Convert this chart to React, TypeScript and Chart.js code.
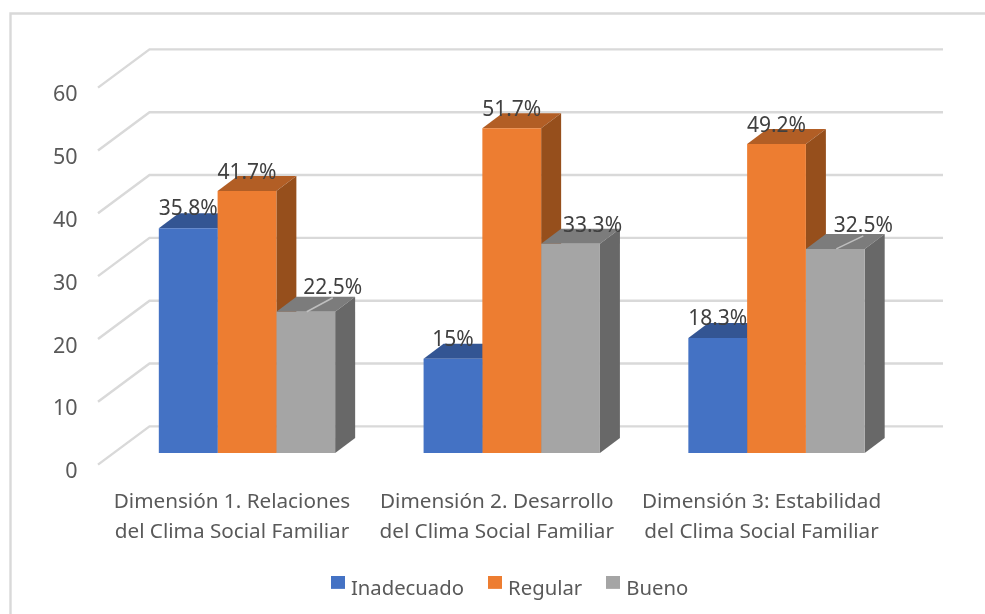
import React, { useEffect, useRef } from "react";
import { Chart, registerables } from "chart.js";

Chart.register(...registerables);

const categories = [
  ["Dimensión 1. Relaciones", "del Clima Social Familiar"],
  ["Dimensión 2. Desarrollo", "del Clima Social Familiar"],
  ["Dimensión 3: Estabilidad", "del Clima Social Familiar"],
];
const inadecuado = [35.8, 15, 18.3];
const regular = [41.7, 51.7, 49.2];
const bueno = [22.5, 33.3, 32.5];
const inadecuadoLabels = ["35.8%", "15%", "18.3%"];
const regularLabels = ["41.7%", "51.7%", "49.2%"];
const buenoLabels = ["22.5%", "33.3%", "32.5%"];

const FONT = "'Noto Sans', sans-serif";
const GRID = "#d9d9d9";
const faces = [
  { front: "#4472C4", top: "#335593", side: "#294674" },
  { front: "#ED7D31", top: "#B25E25", side: "#964F1C" },
  { front: "#A5A5A5", top: "#7C7C7C", side: "#686868" },
];
const DEPTH_X = 20;
const DEPTH_Y = 15;

// label placement relative to the bar: [dx, lift above the bar top]
const labelPlacement = [
  [[0, 13], [0, 13], [0, 13]],
  [[0, 12], [0, 12], [0, 12]],
  [[27, 18], [22, 12], [28, 17]],
];
const leaders = [
  [false, false, false],
  [false, false, false],
  [true, false, true],
];
const labelText = [inadecuadoLabels, regularLabels, buenoLabels];

// legend swatch sits higher than the text's centre, as in the reference
function legendSwatch(color: string) {
  const c = document.createElement("canvas");
  c.width = 14;
  c.height = 26;
  const g = c.getContext("2d") as CanvasRenderingContext2D;
  g.fillStyle = color;
  g.fillRect(0, 0, 14, 13);
  return c;
}

const wallPlugin = {
  id: "wall",
  beforeDraw(chart: any) {
    const { ctx } = chart;
    ctx.save();
    ctx.fillStyle = "#ffffff";
    ctx.fillRect(0, 0, chart.width, chart.height);
    ctx.restore();
  },
  beforeDatasetsDraw(chart: any) {
    const { ctx, scales } = chart;
    const y = scales.y;
    ctx.save();
    ctx.strokeStyle = GRID;
    ctx.lineWidth = 2.4;
    // chart frame (only left and top are inside the picture)
    ctx.beginPath();
    ctx.moveTo(10.5, chart.height);
    ctx.lineTo(10.5, 13.5);
    ctx.lineTo(chart.width, 13.5);
    ctx.stroke();
    // floor + back wall gridlines
    y.ticks.forEach((t: any) => {
      const p = y.getPixelForValue(t.value);
      ctx.beginPath();
      ctx.moveTo(98, p + 11.5);
      ctx.lineTo(149.5, p - 26.7);
      ctx.lineTo(943, p - 26.7);
      ctx.stroke();
    });
    // depth faces
    chart.data.datasets.forEach((_: any, di: number) => {
      const meta = chart.getDatasetMeta(di);
      meta.data.forEach((bar: any) => {
        const half = bar.width / 2;
        const l = bar.x - half;
        const r = bar.x + half;
        const t = bar.y;
        const b = bar.base;
        ctx.fillStyle = faces[di].top;
        ctx.beginPath();
        ctx.moveTo(l, t);
        ctx.lineTo(r, t);
        ctx.lineTo(r + DEPTH_X, t - DEPTH_Y);
        ctx.lineTo(l + DEPTH_X, t - DEPTH_Y);
        ctx.closePath();
        ctx.fill();
        ctx.fillStyle = faces[di].side;
        ctx.beginPath();
        ctx.moveTo(r, t);
        ctx.lineTo(r + DEPTH_X, t - DEPTH_Y);
        ctx.lineTo(r + DEPTH_X, b - DEPTH_Y);
        ctx.lineTo(r, b);
        ctx.closePath();
        ctx.fill();
      });
    });
    ctx.restore();
  },
  afterDatasetsDraw(chart: any) {
    const { ctx } = chart;
    ctx.save();
    ctx.font = `21px ${FONT}`;
    ctx.fillStyle = "#404040";
    ctx.textAlign = "center";
    ctx.textBaseline = "alphabetic";
    chart.data.datasets.forEach((_: any, di: number) => {
      chart.getDatasetMeta(di).data.forEach((bar: any, i: number) => {
        const [dx, lift] = labelPlacement[di][i];
        const lx = bar.x + dx;
        const ly = bar.y - lift;
        if (leaders[di][i]) {
          ctx.strokeStyle = "#bfbfbf";
          ctx.lineWidth = 1.5;
          ctx.beginPath();
          ctx.moveTo(bar.x + 1, bar.y);
          ctx.lineTo(lx, ly + 4);
          ctx.stroke();
        }
        ctx.fillText(labelText[di][i], lx, ly);
      });
    });
    ctx.restore();
  },
  afterLayout(chart: any) {
    const lg = chart.legend;
    const shift = 511.5 - (lg.left + lg.right) / 2;
    lg.left += shift;
    lg.right += shift;
    lg.top -= 5;
    lg.bottom -= 5;
  },
};

export default function App() {
  const ref = useRef<HTMLCanvasElement | null>(null);
  useEffect(() => {
    const swatches = faces.map((f) => legendSwatch(f.front));
    const chart = new Chart(ref.current as HTMLCanvasElement, {
      type: "bar",
      data: {
        labels: categories,
        datasets: [
          { label: "Inadecuado", data: inadecuado, backgroundColor: faces[0].front },
          { label: "Regular", data: regular, backgroundColor: faces[1].front },
          { label: "Bueno", data: bueno, backgroundColor: faces[2].front },
        ],
      },
      options: {
        responsive: false,
        animation: false,
        devicePixelRatio: 1,
        layout: { padding: { top: 76.1, left: 0, right: 76.1, bottom: 0 } },
        datasets: { bar: { barPercentage: 1, categoryPercentage: 0.666 } },
        scales: {
          x: {
            grid: { display: false, drawTicks: false },
            border: { display: false },
            afterFit: (s: any) => {
              s.height = 102.6;
            },
            ticks: {
              maxRotation: 0,
              minRotation: 0,
              autoSkip: false,
              labelOffset: -15,
              padding: 34,
              color: "#595959",
              font: { family: FONT, size: 20.7, lineHeight: 1.45 },
            },
          },
          y: {
            min: 0,
            max: 60,
            grid: { display: false, drawTicks: false },
            border: { display: false },
            afterFit: (s: any) => {
              s.width = 114.6;
            },
            ticks: {
              stepSize: 10,
              labelOffset: 19,
              padding: 37,
              color: "#595959",
              font: { family: FONT, size: 21.5 },
            },
          },
        },
        plugins: {
          tooltip: { enabled: false },
          legend: {
            position: "bottom",
            labels: {
              usePointStyle: true,
              boxWidth: 6,
              boxHeight: 14,
              padding: 28,
              color: "#595959",
              font: { family: FONT, size: 20.3 },
              generateLabels: (c: any) =>
                (Chart.defaults.plugins.legend.labels as any)
                  .generateLabels(c)
                  .map((it: any, i: number) => ({ ...it, pointStyle: swatches[i] })),
            },
          },
        },
      } as any,
      plugins: [wallPlugin],
    });
    return () => chart.destroy();
  }, []);
  return (
    <div style={{ position: "fixed", left: 0, top: 0, width: 985, height: 614, background: "#fff", overflow: "hidden" }}>
      <canvas ref={ref} width={985} height={614} style={{ display: "block", width: 985, height: 614 }} />
    </div>
  );
}
